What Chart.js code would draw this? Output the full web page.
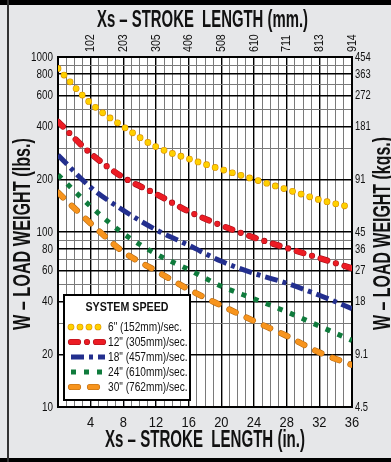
<!DOCTYPE html>
<html>
<head>
<meta charset="utf-8">
<script src="https://cdn.jsdelivr.net/npm/chart.js@4.4.0/dist/chart.umd.min.js"></script>
<style>
  html, body { margin: 0; padding: 0; background: #e6e7e9; }
  canvas { display: block; }
</style>
</head>
<body>
<canvas id="loadChart" width="391" height="462"></canvas>
<script>
// stroke length (in.) and load weight (lbs.)
var strokeIn = [0, 4, 8, 12, 16, 20, 24, 28, 32, 36];
var speed6 = [860, 544, 400, 307, 262, 228, 200, 175, 153, 138];
var speed12 = [427, 281, 205, 165, 131, 109, 93, 81, 71, 62];
var speed18 = [275, 180, 133, 103, 84, 68, 58, 51, 43.5, 36.5];
var speed24 = [212, 140, 98, 75, 61, 49, 41.5, 35, 29, 24];
var speed30 = [168, 112, 77, 60, 47, 38, 31, 25.5, 20.5, 17.4];
var seriesNames = ['6" (152mm)/sec.', '12" (305mm)/sec.', '18" (457mm)/sec.', '24" (610mm)/sec.', '30" (762mm)/sec.'];

// axis labels
var inchTicks = [4, 8, 12, 16, 20, 24, 28, 32, 36];
var mmLabels = ['102', '203', '305', '406', '508', '610', '711', '813', '914'];
var lbsTicks = [1000, 800, 600, 400, 200, 100, 80, 60, 40, 20, 10];
var kgsLabels = ['454', '363', '272', '181', '91', '45', '36', '27', '18', '9.1', '4.5'];
var lbsGrid = [10, 20, 30, 40, 50, 60, 70, 80, 90, 100, 200, 300, 400, 500, 600, 700, 800, 900, 1000];

var face = "'Liberation Sans', Arial, sans-serif";

var styles = [
    { color: '#ffd000', rim: '#d98e00', dash: [0, 9], width: 5.5, cap: 'round' },
    { color: '#ec1c24', rim: '#a8101a', dash: [7, 9, 0, 9], width: 5, cap: 'round' },
    { color: '#232f8e', rim: null, dash: [13, 5, 4, 5], width: 5, cap: 'butt' },
    { color: '#0f7b3c', rim: null, dash: [5, 8], width: 5, cap: 'butt' },
    { color: '#f7941d', rim: '#b86a10', dash: [7, 12], width: 5, cap: 'round' }
];
var allSeries = [speed6, speed12, speed18, speed24, speed30];

function toPoints(values) {
    return values.map(function (v, i) { return { x: strokeIn[i], y: v }; });
}

// each series: optional darker rim underneath (higher order = drawn first)
var datasets = [];
allSeries.forEach(function (values, i) {
    var s = styles[i];
    if (s.rim) {
        datasets.push({
            label: seriesNames[i] + ' rim', data: toPoints(values), order: 2,
            borderColor: s.rim, borderWidth: s.width + 1.2, borderDash: s.dash,
            borderCapStyle: s.cap, pointRadius: 0, cubicInterpolationMode: 'monotone'
        });
    }
    datasets.push({
        label: seriesNames[i], data: toPoints(values), order: 1,
        borderColor: s.color, borderWidth: s.width, borderDash: s.dash,
        borderCapStyle: s.cap, pointRadius: 0, cubicInterpolationMode: 'monotone'
    });
});

// draw text squeezed horizontally by factor k
function squeezeBy(ctx, text, x, y, k, font, angle, align) {
    ctx.save();
    ctx.font = font;
    ctx.translate(x, y);
    ctx.rotate(angle || 0);
    ctx.scale(k, 1);
    ctx.textAlign = align || 'center';
    ctx.textBaseline = 'middle';
    ctx.fillStyle = '#111';
    ctx.fillText(text, 0, 0);
    ctx.restore();
}

// draw text squeezed to a given width
function squeeze(ctx, text, x, y, width, font, angle) {
    ctx.save();
    ctx.font = font;
    var w = ctx.measureText(text).width;
    ctx.restore();
    squeezeBy(ctx, text, x, y, width / w, font, angle, 'center');
}

var backdrop = {
    id: 'backdrop',
    beforeDraw: function (chart) {
        var ctx = chart.ctx, a = chart.chartArea;
        ctx.save();
        ctx.fillStyle = '#e6e7e9';
        ctx.fillRect(0, 0, chart.width, chart.height);
        ctx.fillStyle = '#ffffff';
        ctx.fillRect(a.left, a.top, a.right - a.left, a.bottom - a.top);
        ctx.fillStyle = '#000';
        ctx.fillRect(0, 0, chart.width, 5);
        ctx.fillRect(0, chart.height - 4, chart.width, 4);
        ctx.fillStyle = '#333';
        ctx.fillRect(7, 0, 2, chart.height);
        ctx.restore();
    }
};

var extras = {
    id: 'extras',
    afterDatasetsDraw: function (chart) {
        var ctx = chart.ctx;
        // legend box
        ctx.save();
        ctx.fillStyle = '#fff';
        ctx.strokeStyle = '#000';
        ctx.lineWidth = 2;
        ctx.fillRect(64, 295, 126, 105);
        ctx.strokeRect(64, 295, 126, 105);
        ctx.restore();
        squeeze(ctx, 'SYSTEM SPEED', 127, 307, 83, 'bold 13px ' + face);
        ctx.save();
        ctx.font = '13px ' + face;
        var k = 74 / ctx.measureText(seriesNames[0]).width;
        ctx.restore();
        seriesNames.forEach(function (name, i) {
            var y = 327 + i * 15;
            var s = styles[i];
            var layers = s.rim ? [[s.rim, s.width + 1.2], [s.color, s.width]] : [[s.color, s.width]];
            layers.forEach(function (l) {
                ctx.save();
                ctx.strokeStyle = l[0];
                ctx.lineWidth = l[1];
                ctx.lineCap = s.cap;
                ctx.setLineDash(s.dash);
                ctx.beginPath();
                ctx.moveTo(71, y);
                ctx.lineTo(105, y);
                ctx.stroke();
                ctx.restore();
            });
            squeezeBy(ctx, name, 108, y, k, '13px ' + face, 0, 'left');
        });
    },
    afterDraw: function (chart) {
        var ctx = chart.ctx;
        var sx = chart.scales.x, sy = chart.scales.y;
        // tick labels
        lbsTicks.forEach(function (v, i) {
            var py = sy.getPixelForValue(v);
            squeezeBy(ctx, String(v), 53, py, 0.76, '13px ' + face, 0, 'right');
            squeezeBy(ctx, kgsLabels[i], 355, py, 0.72, '13px ' + face, 0, 'left');
        });
        inchTicks.forEach(function (v, i) {
            var px = sx.getPixelForValue(v);
            squeezeBy(ctx, String(v), px, 423, 0.86, '15px ' + face, 0, 'center');
            squeezeBy(ctx, mmLabels[i], px, 52, 0.82, '13px ' + face, -Math.PI / 2, 'left');
        });
        // axis titles
        var f = 'bold 23px ' + face;
        squeeze(ctx, 'Xs \u2013 STROKE  LENGTH (mm.)', 202.5, 21, 211, f, 0);
        squeeze(ctx, 'Xs \u2013 STROKE  LENGTH (in.)', 205, 441, 200, f, 0);
        squeeze(ctx, 'W \u2013 LOAD WEIGHT (lbs.)', 24, 234, 192, f, -Math.PI / 2);
        squeeze(ctx, 'W \u2013 LOAD WEIGHT (kgs.)', 384, 233.5, 193, f, -Math.PI / 2);
    }
};

var ctx = document.getElementById('loadChart').getContext('2d');
var chart = new Chart(ctx, {
    type: 'line',
    data: { datasets: datasets },
    options: {
        responsive: false,
        animation: false,
        layout: { padding: 0 },
        plugins: { legend: { display: false }, tooltip: { enabled: false } },
        scales: {
            x: {
                type: 'linear', position: 'bottom', min: 0, max: 36,
                afterBuildTicks: function (s) {
                    var t = [];
                    for (var i = 0; i <= 36; i++) t.push({ value: i });
                    s.ticks = t;
                },
                afterFit: function (s) { s.height = 55; },
                ticks: { display: false },
                grid: {
                    drawTicks: false,
                    color: function (c) { return c.tick && c.tick.value % 4 === 0 ? '#000' : '#7a7a7a'; },
                    lineWidth: function (c) { return c.tick && c.tick.value % 4 === 0 ? 1.4 : 1; }
                },
                border: { color: '#000', width: 2 }
            },
            x2: {
                type: 'linear', position: 'top', min: 0, max: 36,
                afterFit: function (s) { s.height = 57; },
                ticks: { display: false },
                grid: { display: false },
                border: { color: '#000', width: 2 }
            },
            y: {
                type: 'logarithmic', position: 'left', min: 10, max: 1000,
                afterBuildTicks: function (s) {
                    s.ticks = lbsGrid.map(function (v) { return { value: v }; });
                },
                afterFit: function (s) { s.width = 58; },
                ticks: { display: false },
                grid: {
                    drawTicks: false,
                    color: function (c) { return c.tick && lbsTicks.indexOf(c.tick.value) >= 0 ? '#000' : '#7a7a7a'; },
                    lineWidth: function (c) { return c.tick && lbsTicks.indexOf(c.tick.value) >= 0 ? 1.4 : 1; }
                },
                border: { color: '#000', width: 2 }
            },
            y2: {
                type: 'logarithmic', position: 'right', min: 10, max: 1000,
                afterFit: function (s) { s.width = 39; },
                ticks: { display: false },
                grid: { display: false },
                border: { color: '#000', width: 2 }
            }
        }
    },
    plugins: [backdrop, extras]
});
</script>
</body>
</html>
